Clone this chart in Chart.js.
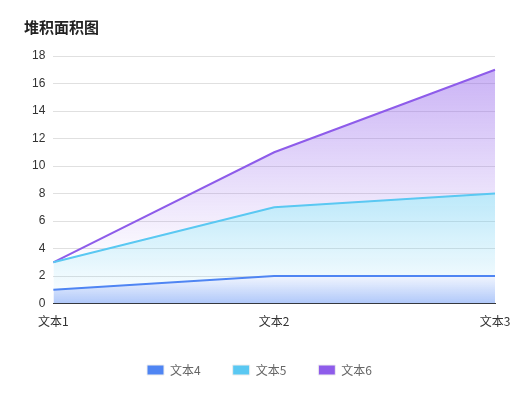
<!DOCTYPE html><html><head><meta charset="utf-8">
<script src="https://cdn.jsdelivr.net/npm/chart.js@4"></script>
<style>html,body{margin:0;background:#fff}#w{width:522px;height:402px;position:relative}</style></head><body>
<div id="w"><canvas id="c"></canvas></div>
<script>
const categories=['文本1','文本2','文本3'];
const names=['文本4','文本5','文本6'];
const s4=[1,2,2];
const s5=[2,5,6];
const s6=[0,4,9];
const colors=['#4f85f3','#5ac8f2','#8e5cea'];
function grad(i){return (ctx)=>{const ch=ctx.chart,a=ch.chartArea;if(!a)return 'rgba(0,0,0,0)';
const g=ch.ctx.createLinearGradient(0,a.top,0,a.bottom);
if(i===0){g.addColorStop(0,'rgba(79,133,243,0)');g.addColorStop(0.88,'rgba(79,133,243,0.05)');g.addColorStop(1,'rgba(79,133,243,0.45)');}
else if(i===1){g.addColorStop(0.4,'rgba(90,200,242,0.55)');g.addColorStop(1,'rgba(90,200,242,0)');}
else{g.addColorStop(0,'rgba(142,92,234,0.5)');g.addColorStop(0.85,'rgba(142,92,234,0)');}
return g;};}
const data=[s4,s5,s6];
new Chart(document.getElementById('c'),{type:'line',
data:{labels:categories,datasets:data.map((d,i)=>({label:names[i],data:d,borderColor:colors[i],backgroundColor:grad(i),fill:i===0?'origin':'-1',borderWidth:2,pointRadius:0,tension:0}))},
options:{responsive:true,maintainAspectRatio:false,animation:false,
layout:{padding:{left:24,right:27,top:8,bottom:16}},
plugins:{title:{display:true,text:'堆积面积图',align:'start',color:'#222',font:{size:15,weight:'bold',family:'"Noto Sans CJK SC"'},padding:{top:10,bottom:20}},
legend:{position:'bottom',labels:{color:'#666',font:{size:12,family:'"Noto Sans CJK SC"'},boxWidth:17,boxHeight:10,padding:32,useBorderRadius:false,
generateLabels:(ch)=>ch.data.datasets.map((ds,i)=>({text:ds.label,fillStyle:colors[i],strokeStyle:'#eee',lineWidth:1,fontColor:'#666',datasetIndex:i}))}},
tooltip:{enabled:false}},
scales:{x:{grid:{display:false},border:{color:'#333'},offset:false,ticks:{color:'#333',font:{size:12,family:'"Noto Sans CJK SC"'}}},
y:{stacked:true,min:0,max:18,border:{display:false},grid:{color:'#e0e0e0',drawTicks:false},ticks:{stepSize:2,color:'#333',padding:8,font:{size:12}}}}}});
</script></body></html>
